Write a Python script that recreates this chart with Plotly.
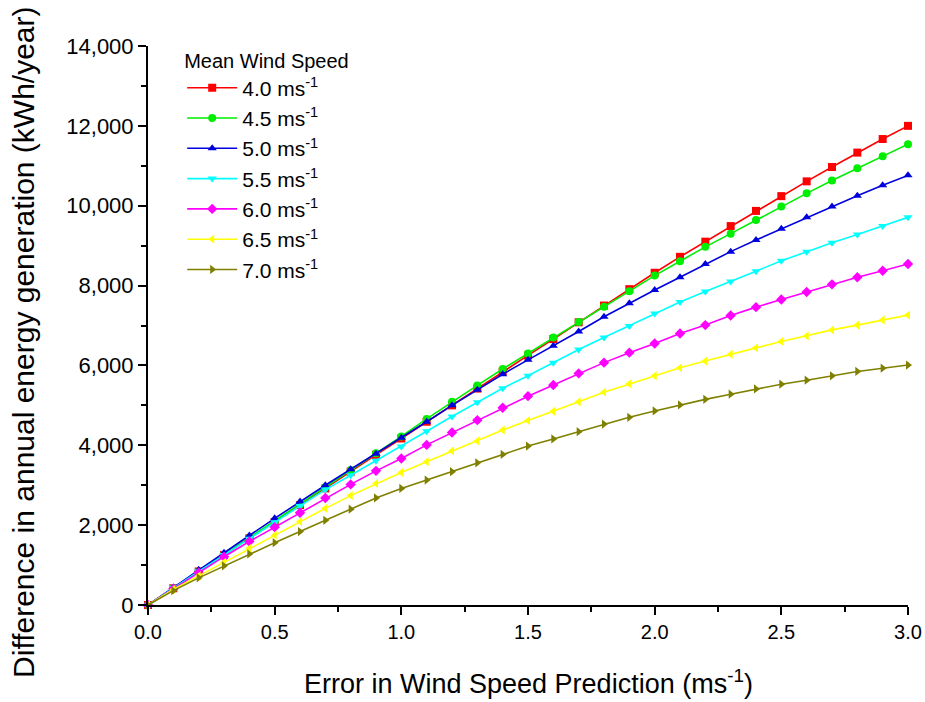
import plotly.graph_objects as go

# Wind speed prediction error (m/s)
error = [round(0.1 * i, 1) for i in range(31)]

# Difference in annual energy generation (kWh/year) for each mean wind speed
aep_40 = [0, 420, 840, 1250, 1670, 2080, 2500, 2920, 3340, 3760, 4170, 4590, 5000, 5420, 5840, 6250,
          6660, 7080, 7500, 7910, 8320, 8720, 9100, 9490, 9870, 10240, 10610, 10970, 11330, 11670, 12000]
aep_45 = [0, 420, 840, 1260, 1680, 2100, 2520, 2950, 3380, 3800, 4220, 4660, 5090, 5500, 5910, 6300,
          6700, 7090, 7470, 7860, 8250, 8610, 8970, 9300, 9640, 9980, 10310, 10630, 10940, 11240, 11540]
aep_50 = [0, 440, 880, 1310, 1740, 2170, 2590, 3000, 3400, 3790, 4190, 4590, 5000, 5390, 5780, 6140,
          6490, 6850, 7220, 7560, 7890, 8210, 8540, 8850, 9140, 9420, 9710, 9980, 10250, 10510, 10760]
aep_55 = [0, 430, 840, 1250, 1660, 2070, 2480, 2890, 3250, 3610, 3970, 4350, 4720, 5080, 5430, 5740,
          6070, 6400, 6700, 6990, 7300, 7590, 7850, 8100, 8360, 8620, 8850, 9070, 9280, 9490, 9710]
aep_60 = [0, 410, 810, 1210, 1590, 1950, 2310, 2680, 3020, 3360, 3670, 4010, 4320, 4630, 4940, 5230,
          5510, 5800, 6070, 6320, 6550, 6800, 7010, 7250, 7460, 7650, 7840, 8030, 8210, 8370, 8540]
aep_65 = [0, 390, 730, 1070, 1420, 1750, 2090, 2420, 2740, 3040, 3320, 3590, 3860, 4110, 4380, 4620,
          4850, 5090, 5330, 5540, 5740, 5940, 6110, 6280, 6440, 6600, 6740, 6890, 7010, 7140, 7260]
aep_70 = [0, 360, 680, 980, 1280, 1560, 1840, 2120, 2400, 2680, 2920, 3130, 3340, 3560, 3770, 3980,
          4160, 4340, 4530, 4700, 4860, 5010, 5150, 5280, 5410, 5530, 5630, 5740, 5850, 5930, 6010]

series_names = ["4.0 ms<sup>-1</sup>", "4.5 ms<sup>-1</sup>", "5.0 ms<sup>-1</sup>", "5.5 ms<sup>-1</sup>",
                "6.0 ms<sup>-1</sup>", "6.5 ms<sup>-1</sup>", "7.0 ms<sup>-1</sup>"]
series_values = [aep_40, aep_45, aep_50, aep_55, aep_60, aep_65, aep_70]

colors = ["#FF0000", "#00EE00", "#0000DD", "#00FFFF", "#FF00FF", "#FFFF00", "#808000"]
symbols = ["square", "circle", "triangle-up", "triangle-down", "diamond", "triangle-left", "triangle-right"]

x_title = "Error in Wind Speed Prediction (ms<sup>-1</sup>)"
y_title = "Difference in annual energy generation (kWh/year)"

fig = go.Figure()
for name, vals, col, sym in zip(series_names, series_values, colors, symbols):
    fig.add_trace(go.Scatter(
        x=error, y=vals, name=name, mode="lines+markers",
        line=dict(color=col, width=1.6),
        marker=dict(color=col, symbol=sym, size=8, line=dict(width=0)),
        cliponaxis=False,
    ))

regular = "Liberation Sans, Arial, sans-serif"

fig.update_layout(
    width=925, height=702,
    margin=dict(l=148, r=17, t=46, b=97, autoexpand=False),
    plot_bgcolor="white", paper_bgcolor="white",
    font=dict(family=regular, color="black"),
    showlegend=True,
    legend=dict(
        x=0.045, y=1.008, xanchor="left", yanchor="top",
        title=dict(text="Mean Wind Speed", font=dict(size=20, family=regular)),
        font=dict(size=21, family=regular),
        bgcolor="rgba(0,0,0,0)",
        tracegroupgap=0,
        itemwidth=50,
    ),
    xaxis=dict(
        range=[0, 3.0], tick0=0, dtick=0.5, tickformat=".1f",
        showgrid=False, zeroline=False, automargin=False,
        showline=True, linecolor="black", linewidth=2,
        ticks="outside", ticklen=8, tickwidth=2, tickcolor="black",
        minor=dict(dtick=0.25, ticks="outside", ticklen=5, tickwidth=2, tickcolor="black"),
        tickfont=dict(size=20, family=regular),
    ),
    yaxis=dict(
        range=[0, 14000], tick0=0, dtick=2000, tickformat=",d",
        showgrid=False, zeroline=False, automargin=False,
        showline=True, linecolor="black", linewidth=2,
        ticks="outside", ticklen=8, tickwidth=2, tickcolor="black",
        minor=dict(dtick=1000, ticks="outside", ticklen=5, tickwidth=2, tickcolor="black"),
        tickfont=dict(size=22, family=regular),
    ),
    annotations=[
        dict(text=x_title, xref="paper", yref="paper", x=0.5, y=-0.172,
             xanchor="center", yanchor="bottom", showarrow=False,
             font=dict(size=27, family=regular)),
        dict(text=y_title, xref="paper", yref="paper", x=-0.163, y=0.469,
             xanchor="center", yanchor="middle", showarrow=False, textangle=-90,
             font=dict(size=30, family=regular)),
    ],
)

fig.write_html("out.html")
